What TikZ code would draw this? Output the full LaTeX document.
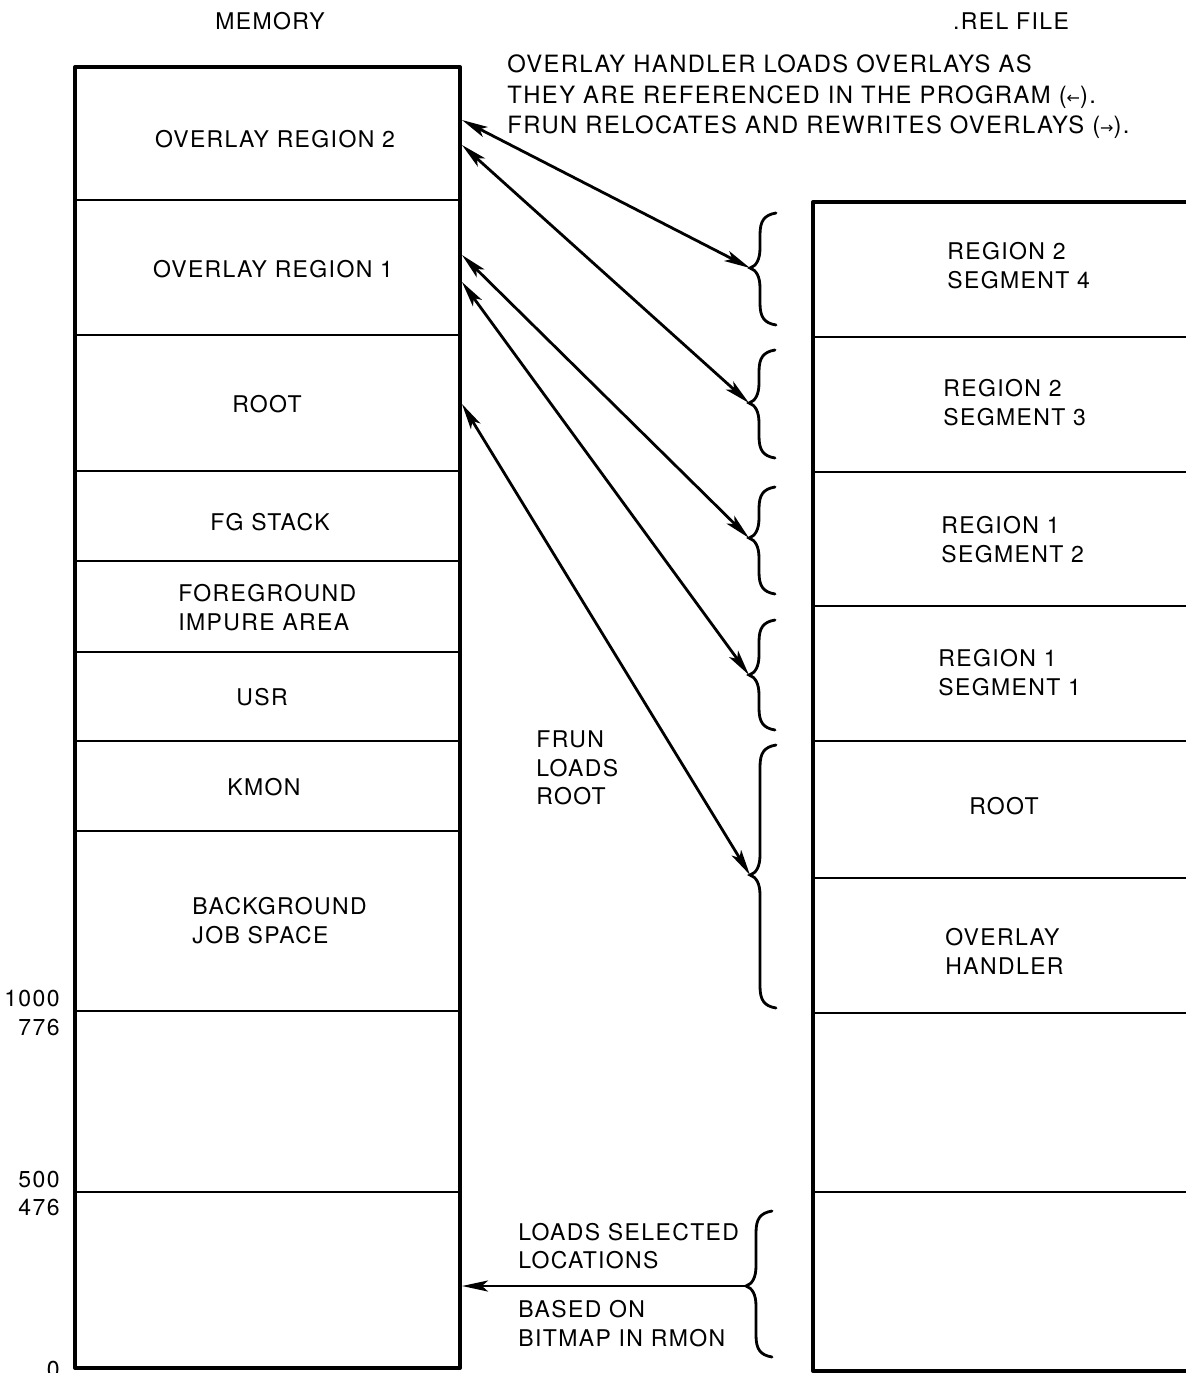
\documentclass[tikz,border=0pt]{standalone}
\usepackage{fontspec}
\setmainfont{TeX Gyre Heros}[LetterSpace=6]
\newfontfamily\symfnt{DejaVu Sans}
\usetikzlibrary{arrows.meta}
\newcommand{\relbrace}[5]{% name, tip x, top y, tip y, bottom y
  \coordinate (#1) at (#2,#4);
  \draw[bracestyle] (#2+26,#3) .. controls (#2+14,#3+2) and (#2+10,#3+8) .. (#2+10,#3+22)
    -- (#2+10,#4-20) .. controls (#2+10,#4-8) and (#2+6,#4-2) .. (#2,#4)
    .. controls (#2+6,#4+2) and (#2+10,#4+8) .. (#2+10,#4+20)
    -- (#2+10,#5-22) .. controls (#2+10,#5-8) and (#2+14,#5-2) .. (#2+26,#5);}
\newcommand{\smarrow}[1]{{\symfnt\fontsize{8}{8}\selectfont #1}}
\begin{document}
\begin{tikzpicture}[x=0.5pt,y=-0.5pt,
  >={Stealth[length=13pt,width=5.5pt,inset=3pt]},
  lbl/.style={font=\fontsize{11.5}{14.4}\selectfont, inner sep=0pt, align=left},
  outer/.style={line width=2pt, line join=round},
  divider/.style={line width=1.2pt},
  conn/.style={line width=1.4pt},
  bracestyle/.style={line width=1.4pt, line cap=round}]
\path[use as bounding box, fill=white] (0,0) rectangle (1186,1373);

% headings
\node[lbl] (memt) at (270,21) {MEMORY};
\node[lbl] (relt) at (1011,21) {.REL FILE};
\node[lbl, anchor=west, font=\fontsize{11.9}{15.2}\selectfont] (note) at (507,97)
  {OVERLAY HANDLER LOADS OVERLAYS AS\\THEY ARE REFERENCED IN THE PROGRAM (\smarrow{←}).\\FRUN RELOCATES AND REWRITES OVERLAYS (\smarrow{→}).};

% memory column
\draw[outer] (75,67) rectangle (460,1368);
\foreach \yy in {200,335,471,561,652,741,831,1011,1192}
  \draw[divider] (75,\yy) -- (460,\yy);
\node[lbl] (or2) at (275,139) {OVERLAY REGION 2};
\node[lbl] (or1) at (273,269) {OVERLAY REGION 1};
\node[lbl] (mroot) at (267,404) {ROOT};
\node[lbl] (fgs) at (270,522) {FG STACK};
\node[lbl, anchor=west] (fia) at (178,607.5) {FOREGROUND\\IMPURE AREA};
\node[lbl] (usr) at (262,697) {USR};
\node[lbl] (kmon) at (264,787) {KMON};
\node[lbl, anchor=west] (bjs) at (192,920.5) {BACKGROUND\\JOB SPACE};
\node[lbl, anchor=east] (n1000) at (60,999) {1000};
\node[lbl, anchor=east] (n776) at (60,1028) {776};
\node[lbl, anchor=east] (n500) at (60,1180) {500};
\node[lbl, anchor=east] (n476) at (60,1208) {476};
\node[lbl, anchor=east] (n0) at (60,1370) {0};

% rel file column
\draw[outer] (1190,202) -- (813,202) -- (813,1371) -- (1190,1371);
\foreach \yy in {337,472,606,741,878,1013,1192}
  \draw[divider] (813,\yy) -- (1190,\yy);
\node[lbl, anchor=west] (s4) at (947,266) {REGION 2\\SEGMENT 4};
\node[lbl, anchor=west] (s3) at (943,403) {REGION 2\\SEGMENT 3};
\node[lbl, anchor=west] (s2) at (941,540) {REGION 1\\SEGMENT 2};
\node[lbl, anchor=west] (s1) at (938,673) {REGION 1\\SEGMENT 1};
\node[lbl] (rroot) at (1004,806) {ROOT};
\node[lbl, anchor=west] (ovh) at (945,951) {OVERLAY\\HANDLER};

% middle labels
\node[lbl, anchor=west] (frun) at (536,768) {FRUN\\LOADS\\ROOT};
\node[lbl, anchor=west] (lsl) at (518,1246) {LOADS SELECTED\\LOCATIONS};
\node[lbl, anchor=west] (bob) at (518,1323.5) {BASED ON\\BITMAP IN RMON};

% braces
\relbrace{b1}{750}{213}{268}{325}
\relbrace{b2}{749}{350}{403}{458}
\relbrace{b3}{749}{487}{538}{594}
\relbrace{b4}{749}{620}{675}{730}
\relbrace{b5}{750}{745}{875}{1008}
\relbrace{b6}{746}{1211}{1286}{1357}

% memory edge points
\coordinate (m1) at (462,120);
\coordinate (m2) at (462,145);
\coordinate (m3) at (462,255);
\coordinate (m4) at (462,282);
\coordinate (m5) at (462,404);
\coordinate (m6) at (462,1286);

% connectors
\draw[conn,<->] (m1) -- (b1);
\draw[conn,<->] (m2) -- (b2);
\draw[conn,<->] (m3) -- (b3);
\draw[conn,<->] (m4) -- (b4);
\draw[conn,<->] (m5) -- (b5);
\draw[conn,->] (b6) -- (m6);
\end{tikzpicture}
\end{document}
